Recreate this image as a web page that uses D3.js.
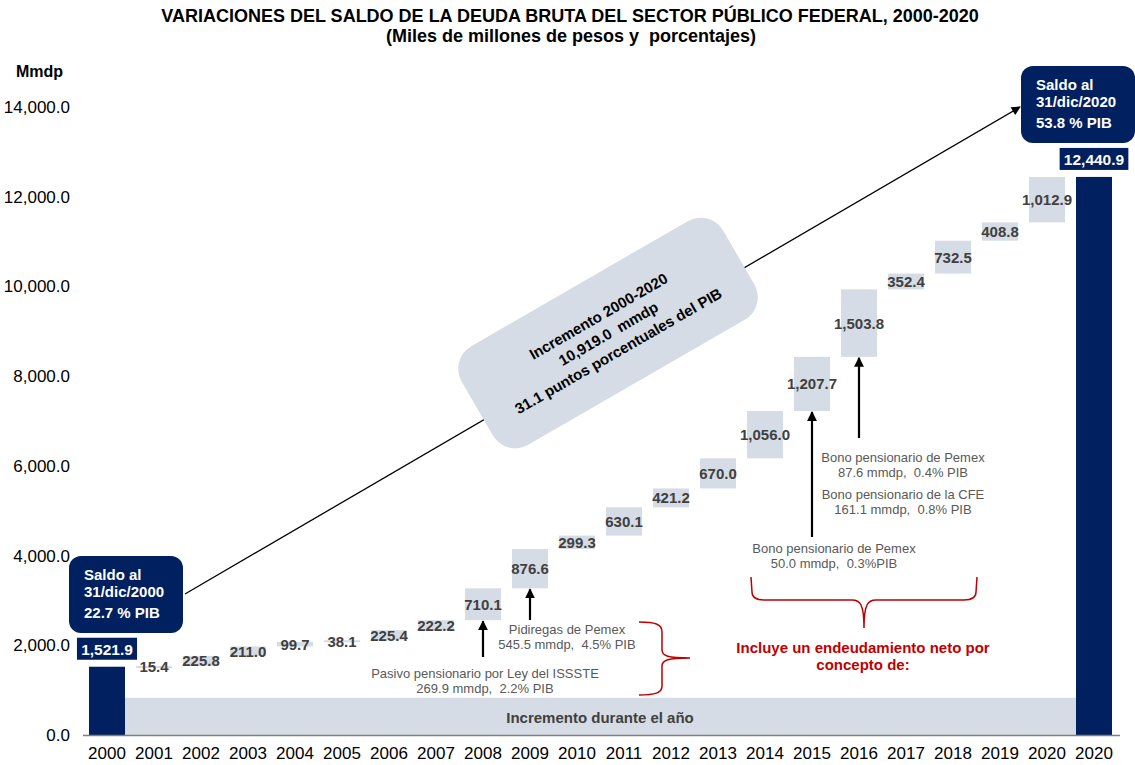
<!DOCTYPE html>
<html>
<head>
<meta charset="utf-8">
<script src="https://cdn.jsdelivr.net/npm/d3@7"></script>
<style>
  body { margin: 0; background: #fff; }
  svg { font-family: Arial, "Liberation Sans", sans-serif; }
</style>
</head>
<body>
<svg width="1135" height="765"></svg>
<script>
"use strict";

// data
const years = ["2000", "2001", "2002", "2003", "2004", "2005", "2006", "2007", "2008", "2009", "2010",
               "2011", "2012", "2013", "2014", "2015", "2016", "2017", "2018", "2019", "2020", "2020"];
const saldoInicial = 1521.9;
const incrementos = [15.4, 225.8, 211.0, 99.7, 38.1, 225.4, 222.2, 710.1, 876.6, 299.3,
                     630.1, 421.2, 670.0, 1056.0, 1207.7, 1503.8, 352.4, 732.5, 408.8, 1012.9];
const saldoFinal = 12440.9;
const yTicks = [0, 2000, 4000, 6000, 8000, 10000, 12000, 14000];

const navy = "#002060", boxGray = "#D6DCE5", labelGray = "#404040",
      noteGray = "#595959", red = "#C00000";

let chart = d3.select("body svg");

const width = 1135, height = 765,
      barWidth = 36;

let scaleY = d3.scaleLinear()
    .domain([0, 14000])
    .range([735, 107]);

let scaleX = d3.scaleBand()
    .domain(d3.range(years.length))
    .range([83.5, 1117.5]);

let cx = i => scaleX(i) + scaleX.bandwidth() / 2;
let fmt = d3.format(",.1f");

// arrow markers
let defs = chart.append("defs");
defs.append("marker")
    .attr("id", "headBig")
    .attr("viewBox", "0 0 10 10")
    .attr("refX", 9).attr("refY", 5)
    .attr("markerWidth", 4.5).attr("markerHeight", 4.5)
    .attr("markerUnits", "strokeWidth")
    .attr("orient", "auto")
    .append("path").attr("d", "M0,0 L10,5 L0,10 z").attr("fill", "#000");
defs.append("marker")
    .attr("id", "headThin")
    .attr("viewBox", "0 0 10 10")
    .attr("refX", 9).attr("refY", 5)
    .attr("markerWidth", 8).attr("markerHeight", 7)
    .attr("markerUnits", "strokeWidth")
    .attr("orient", "auto")
    .append("path").attr("d", "M0,0 L10,5 L0,10 z").attr("fill", "#000");

// title
chart.append("text")
    .attr("x", 570).attr("y", 22)
    .attr("text-anchor", "middle")
    .attr("font-size", 18).attr("font-weight", "bold")
    .text("VARIACIONES DEL SALDO DE LA DEUDA BRUTA DEL SECTOR PÚBLICO FEDERAL, 2000-2020");
chart.append("text")
    .attr("x", 571).attr("y", 42)
    .attr("text-anchor", "middle")
    .attr("font-size", 18).attr("font-weight", "bold")
    .attr("xml:space", "preserve")
    .text("(Miles de millones de pesos y  porcentajes)");

// y axis labels
chart.append("text")
    .attr("x", 16).attr("y", 77)
    .attr("font-size", 16).attr("font-weight", "bold")
    .text("Mmdp");

chart.append("g")
    .attr("class", "y_axis")
    .attr("transform", "translate(70, 0)")
    .call(d3.axisLeft(scaleY).tickValues(yTicks).tickFormat(fmt).tickSize(0).tickPadding(0))
    .call(g => g.select(".domain").remove())
    .call(g => g.selectAll("text")
        .attr("font-size", 17)
        .attr("font-family", "Arial, 'Liberation Sans', sans-serif")
        .attr("fill", "#000"));

// band "Incremento durante el año"
let bandLeft = cx(0) + barWidth / 2,
    bandRight = cx(years.length - 1) - barWidth / 2;
chart.append("rect")
    .attr("x", bandLeft)
    .attr("y", scaleY(830))
    .attr("width", bandRight - bandLeft)
    .attr("height", scaleY(0) - scaleY(830))
    .attr("fill", boxGray);
chart.append("text")
    .attr("x", 600).attr("y", scaleY(0) - 12)
    .attr("text-anchor", "middle")
    .attr("font-size", 15).attr("font-weight", "bold")
    .attr("fill", labelGray)
    .text("Incremento durante el año");

// waterfall boxes
let acum = saldoInicial;
let pasos = incrementos.map((v, i) => {
    let d = {i: i + 1, v: v, y0: acum, y1: acum + v};
    acum += v;
    return d;
});

let steps = chart.append("g").attr("class", "steps")
    .selectAll("g")
    .data(pasos)
    .enter()
    .append("g");

steps.append("rect")
    .attr("x", d => cx(d.i) - barWidth / 2)
    .attr("y", d => scaleY(d.y1))
    .attr("width", barWidth)
    .attr("height", d => Math.max(scaleY(d.y0) - scaleY(d.y1), 2))
    .attr("fill", boxGray);

steps.append("text")
    .attr("x", d => cx(d.i))
    .attr("y", d => (scaleY(d.y0) + scaleY(d.y1)) / 2 + 5.5)
    .attr("text-anchor", "middle")
    .attr("font-size", 15).attr("font-weight", "bold")
    .attr("fill", labelGray)
    .text(d => fmt(d.v));

// saldo bars
let saldos = [{i: 0, v: saldoInicial}, {i: years.length - 1, v: saldoFinal}];
let saldoG = chart.append("g").attr("class", "saldos")
    .selectAll("g")
    .data(saldos)
    .enter()
    .append("g");

saldoG.append("rect")
    .attr("x", d => cx(d.i) - barWidth / 2)
    .attr("y", d => scaleY(d.v))
    .attr("width", barWidth)
    .attr("height", d => scaleY(0) - scaleY(d.v))
    .attr("fill", navy);

saldoG.each(function(d) {
    let g = d3.select(this);
    let t = g.append("text")
        .attr("x", cx(d.i))
        .attr("y", scaleY(d.v) - 12)
        .attr("text-anchor", "middle")
        .attr("font-size", 15.5).attr("font-weight", "bold")
        .attr("fill", "#fff")
        .text(fmt(d.v));
    let w = t.node().getBBox().width + 8;
    g.insert("rect", "text")
        .attr("x", cx(d.i) - w / 2)
        .attr("y", scaleY(d.v) - 29)
        .attr("width", w)
        .attr("height", 22)
        .attr("fill", navy);
});

// x axis
chart.append("line")
    .attr("x1", 83).attr("x2", 1120)
    .attr("y1", scaleY(0) + 0.5).attr("y2", scaleY(0) + 0.5)
    .attr("stroke", "#7f7f7f").attr("stroke-width", 1.5);

chart.append("g")
    .attr("class", "x_axis")
    .selectAll("text")
    .data(years)
    .enter()
    .append("text")
    .attr("x", (d, i) => cx(i))
    .attr("y", 759)
    .attr("text-anchor", "middle")
    .attr("font-size", 17)
    .text(d => d);

// diagonal arrow between callouts
let p0 = [cx(0) + 78, 594],
    p1 = [cx(years.length - 1) - 74, scaleY(14000)];
chart.append("line")
    .attr("x1", p0[0]).attr("y1", p0[1])
    .attr("x2", p1[0]).attr("y2", p1[1])
    .attr("stroke", "#000").attr("stroke-width", 1.3)
    .attr("marker-end", "url(#headThin)");

// rotated box "Incremento 2000-2020"
let rot = chart.append("g")
    .attr("transform", "translate(608, 333) rotate(-30)");
rot.append("rect")
    .attr("x", -151).attr("y", -57)
    .attr("width", 302).attr("height", 114)
    .attr("rx", 26)
    .attr("fill", boxGray);
["Incremento 2000-2020", "10,919.0  mmdp", "31.1 puntos porcentuales del PIB"].forEach((s, k) => {
    rot.append("text")
        .attr("x", 0).attr("y", (k - 1) * 20 + 6)
        .attr("text-anchor", "middle")
        .attr("font-size", 15).attr("font-weight", "bold")
        .attr("xml:space", "preserve")
        .text(s);
});

// callouts "Saldo al"
function callout(x, y, lines) {
    let g = chart.append("g").attr("transform", `translate(${x}, ${y})`);
    g.append("rect")
        .attr("width", 114).attr("height", 77)
        .attr("rx", 12)
        .attr("fill", navy);
    [19, 36, 57].forEach((ty, k) => {
        g.append("text")
            .attr("x", 15).attr("y", ty + 5)
            .attr("font-size", 15).attr("font-weight", "bold")
            .attr("fill", "#fff")
            .text(lines[k]);
    });
}
callout(cx(0) - 38, 556, ["Saldo al", "31/dic/2000", "22.7 % PIB"]);
callout(cx(years.length - 1) - 73, 66, ["Saldo al", "31/dic/2020", "53.8 % PIB"]);

// annotation arrows
let pasoAt = yr => pasos.find(d => d.i === years.indexOf(yr));
[["2008", 657], ["2009", 620], ["2015", 537], ["2016", 438]].forEach(([yr, from]) => {
    let d = pasoAt(yr);
    chart.append("line")
        .attr("x1", cx(d.i)).attr("x2", cx(d.i))
        .attr("y1", from).attr("y2", scaleY(d.y0) + 1)
        .attr("stroke", "#000").attr("stroke-width", 2.2)
        .attr("marker-end", "url(#headBig)");
});

// annotation texts
function note(x, y, lines) {
    lines.forEach((s, k) => {
        chart.append("text")
            .attr("x", x).attr("y", y + k * 15)
            .attr("text-anchor", "middle")
            .attr("font-size", 13)
            .attr("fill", noteGray)
            .attr("xml:space", "preserve")
            .text(s);
    });
}
note(567, 634, ["Pidiregas de Pemex", "545.5 mmdp,  4.5% PIB"]);
note(485, 678, ["Pasivo pensionario por Ley del ISSSTE", "269.9 mmdp,  2.2% PIB"]);
note(903, 462, ["Bono pensionario de Pemex", "87.6 mmdp,  0.4% PIB"]);
note(903, 499, ["Bono pensionario de la CFE", "161.1 mmdp,  0.8% PIB"]);
note(834, 553, ["Bono pensionario de Pemex", "50.0 mmdp,  0.3%PIB"]);

// red braces
chart.append("path")
    .attr("d", "M639,622 C655,622 662,624 662,632 L662,650 C662,656 668,658 690,658 " +
               "M690,658 C668,658 662,660 662,666 L662,686 C662,693 655,695 639,695")
    .attr("fill", "none").attr("stroke", red).attr("stroke-width", 1.5);
chart.append("path")
    .attr("d", "M751,577 L752,592 C752,598 756,600 764,600 L852,600 C860,600 864,604 864,628 " +
               "M864,628 C864,604 868,600 876,600 L964,600 C972,600 976,598 976,592 L977,577")
    .attr("fill", "none").attr("stroke", red).attr("stroke-width", 1.5);

["Incluye un endeudamiento neto por", "concepto de:"].forEach((s, k) => {
    chart.append("text")
        .attr("x", 863).attr("y", 653 + k * 17)
        .attr("text-anchor", "middle")
        .attr("font-size", 15).attr("font-weight", "bold")
        .attr("fill", red)
        .text(s);
});
</script>
</body>
</html>
